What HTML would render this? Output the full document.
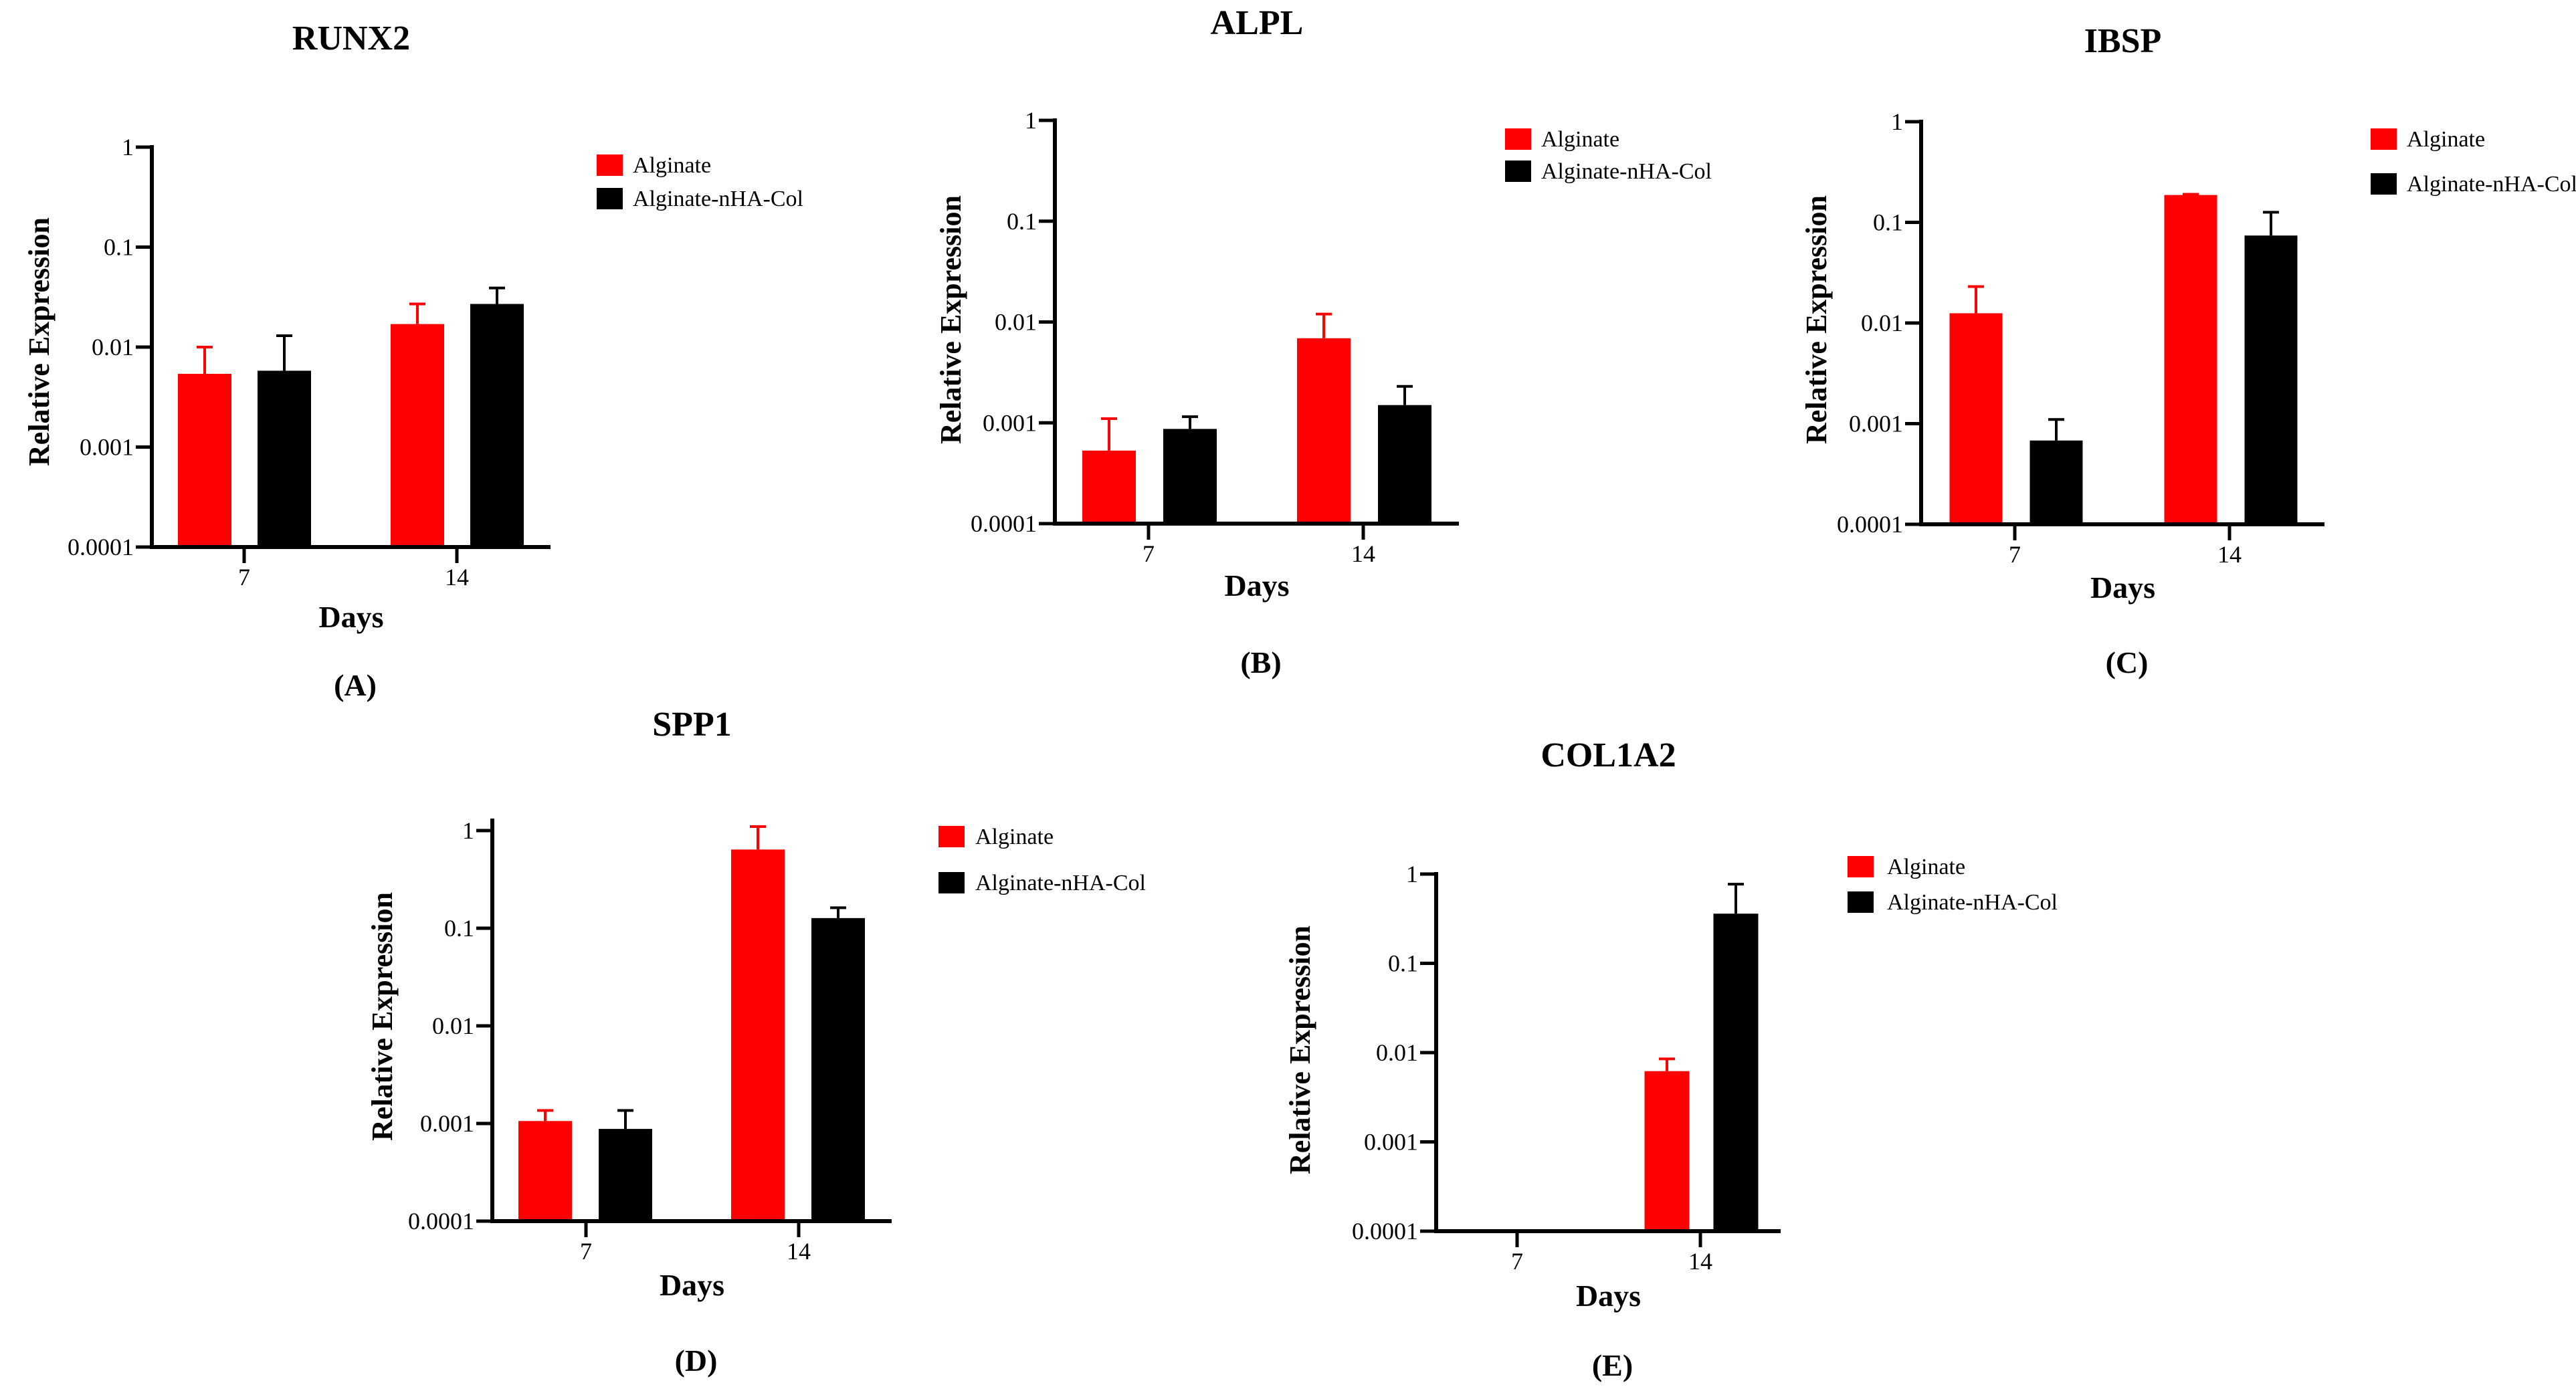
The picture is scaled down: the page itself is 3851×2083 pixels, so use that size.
<!DOCTYPE html>
<html><head><meta charset="utf-8"><style>
html,body{margin:0;padding:0;background:#fff;}
svg{display:block;font-family:"Liberation Serif","Times New Roman",serif;}
svg text{font-family:"Liberation Serif","Times New Roman",serif;fill:#000;}
</style></head><body>
<svg id="fig" width="3851" height="2083" viewBox="0 0 3851 2083" font-family="Liberation Serif, serif" xmlns="http://www.w3.org/2000/svg"></svg>
<script>
const categories = ["7","14"];
const tickLabels = ["0.0001","0.001","0.01","0.1","1"];
const seriesNames = ["Alginate","Alginate-nHA-Col"];
const panelTitles = ["RUNX2","ALPL","IBSP","SPP1","COL1A2"];
const panelLetters = ["(A)","(B)","(C)","(D)","(E)"];
// values [day7, day14]
const runx2Alg = [0.0054, 0.017];   const runx2AlgErr = [0.010, 0.027];
const runx2Nha = [0.0058, 0.027];   const runx2NhaErr = [0.013, 0.039];
const alplAlg = [0.00053, 0.0069];  const alplAlgErr = [0.0011, 0.012];
const alplNha = [0.00087, 0.0015];  const alplNhaErr = [0.00115, 0.0023];
const ibspAlg = [0.0125, 0.187];    const ibspAlgErr = [0.023, 0.19];
const ibspNha = [0.00068, 0.074];   const ibspNhaErr = [0.0011, 0.126];
const spp1Alg = [0.00106, 0.64];    const spp1AlgErr = [0.00136, 1.1];
const spp1Nha = [0.00088, 0.127];   const spp1NhaErr = [0.00136, 0.162];
const col1Alg = [null, 0.0062];     const col1AlgErr = [null, 0.0085];
const col1Nha = [null, 0.36];       const col1NhaErr = [null, 0.77];

const NS = "http://www.w3.org/2000/svg";
const svg = document.getElementById('fig');
const FF = '"Liberation Serif", "Times New Roman", serif';
function mk(tag, attrs, parent){
  const e = document.createElementNS(NS, tag);
  for (const k in attrs) e.setAttribute(k, attrs[k]);
  if (tag === 'text') { e.setAttribute('font-family', FF); e.style.fontFamily = FF; }
  (parent||svg).appendChild(e);
  return e;
}
const panels = [
 {ax:227, top:220, bot:818, axTop:220, right:823, x0:365, step:318, bw:80, off:[-59,60], tY:74, dY:938, lY:1040, yl:58, ylc:511, lsx:892, lsy:[231,281], ltx:946, alg:runx2Alg, algE:runx2AlgErr, nha:runx2Nha, nhaE:runx2NhaErr},
 {ax:1577, top:180, bot:783, axTop:180, right:2181, x0:1717, step:321, bw:80, off:[-59,62], tY:51, dY:891, lY:1006, yl:1421, ylc:478, lsx:2250, lsy:[192,240], ltx:2304, alg:alplAlg, algE:alplAlgErr, nha:alplNha, nhaE:alplNhaErr},
 {ax:2872, top:182, bot:784, axTop:182, right:3475, x0:3012, step:321, bw:79, off:[-58,62], tY:78, dY:894, lY:1006, yl:2715, ylc:478, lsx:3544, lsy:[192,259], ltx:3598, alg:ibspAlg, algE:ibspAlgErr, nha:ibspNha, nhaE:ibspNhaErr},
 {ax:736, top:1242, bot:1826, axTop:1227, right:1333, x0:876, step:318, bw:80, off:[-61,59], tY:1100, dY:1937, lY:2050, yl:571, ylc:1520, lsx:1403, lsy:[1235,1304], ltx:1458, alg:spp1Alg, algE:spp1AlgErr, nha:spp1Nha, nhaE:spp1NhaErr},
 {ax:2147, top:1307, bot:1841, axTop:1307, right:2662, x0:2268, step:274, bw:67, off:[-50,53], tY:1146, dY:1953, lY:2057, yl:1943, ylc:1570, lsx:2762, lsy:[1280,1333], ltx:2821, alg:col1Alg, algE:col1AlgErr, nha:col1Nha, nhaE:col1NhaErr}
];
const colors = ["#ff0000","#000000"];
panels.forEach((p, pi) => {
  const g = mk('g', {});
  
  
  const y = v => p.bot - (Math.log10(v) + 4) / 4 * (p.bot - p.top);
  const x = i => p.x0 + i * p.step;
  const mid = (p.ax + p.right) / 2;
  const sets = [[p.alg, p.algE], [p.nha, p.nhaE]];
  sets.forEach((s, si) => {
    categories.forEach((c, ci) => {
      const v = s[0][ci];
      if (v == null) return;
      const cx = x(ci) + p.off[si];
      const eb = mk('line', {x1:cx, x2:cx, y1:y(v), y2:y(s[1][ci]), stroke:colors[si], 'stroke-width':4}, g);
      
      
      const cap = mk('line', {x1:cx-12, x2:cx+12, y1:y(s[1][ci]), y2:y(s[1][ci]), stroke:colors[si], 'stroke-width':4}, g);
      
      
      const r = mk('rect', {x:cx-p.bw/2, y:y(v), width:p.bw, height:p.bot-y(v), fill:colors[si]}, g);
      
      
    });
  });
  const ya = mk('line', {x1:p.ax, x2:p.ax, y1:p.axTop-3, y2:p.bot+3, stroke:'#000', 'stroke-width':6}, g);
  
  
  const xa = mk('line', {x1:p.ax-3, x2:p.right, y1:p.bot, y2:p.bot, stroke:'#000', 'stroke-width':6}, g);
  
  
  tickLabels.forEach((t, ti) => {
    const ty = y(Math.pow(10, ti - 4));
    const tk = mk('line', {x1:p.ax-24, x2:p.ax, y1:ty, y2:ty, stroke:'#000', 'stroke-width':5}, g);
    
    
    const tl = mk('text', {x:p.ax-27, y:ty+12, 'font-size':36, 'text-anchor':'end'}, g);
    tl.textContent = t;
    
    
  });
  categories.forEach((c, ci) => {
    const tk = mk('line', {x1:x(ci), x2:x(ci), y1:p.bot, y2:p.bot+24, stroke:'#000', 'stroke-width':5}, g);
    
    
    const tl = mk('text', {x:x(ci), y:p.bot+57, 'font-size':36, 'text-anchor':'middle'}, g);
    tl.textContent = c;
    
    
  });
  const tt = mk('text', {x:mid, y:p.tY, 'font-size':52, 'font-weight':'bold', 'text-anchor':'middle'}, g);
  tt.textContent = panelTitles[pi];
  
  
  const dl = mk('text', {x:mid, y:p.dY, 'font-size':46, 'font-weight':'bold', 'text-anchor':'middle'}, g);
  dl.textContent = 'Days';
  
  
  const pl = mk('text', {x:mid+6, y:p.lY, 'font-size':46, 'font-weight':'bold', 'text-anchor':'middle'}, g);
  pl.textContent = panelLetters[pi];
  
  
  const yt = mk('text', {x:0, y:0, 'font-size':44, 'font-weight':'bold', 'text-anchor':'middle', transform:'translate(' + (p.yl+15) + ',' + p.ylc + ') rotate(-90)'}, g);
  yt.textContent = 'Relative Expression';
  
  
  seriesNames.forEach((s, si) => {
    const sw = mk('rect', {x:p.lsx, y:p.lsy[si], width:39, height:32, fill:colors[si]}, g);
    
    
    const lt = mk('text', {x:p.ltx, y:p.lsy[si]+27, 'font-size':34}, g);
    lt.textContent = s;
    
    
  });
});
</script>
</body></html>
